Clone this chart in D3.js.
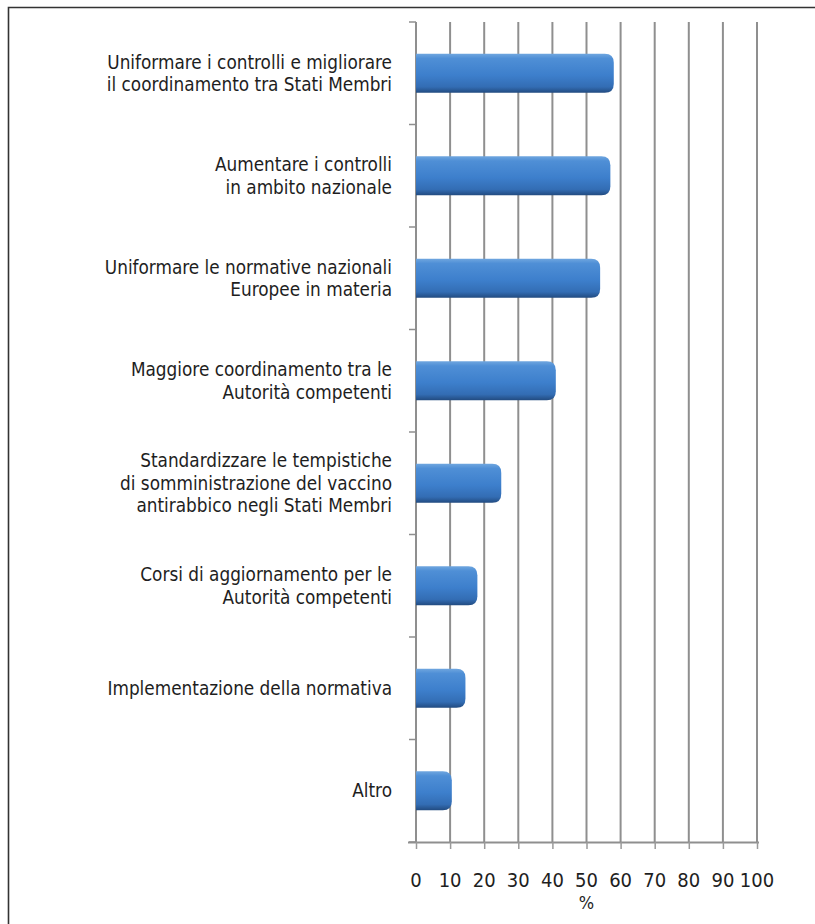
<!DOCTYPE html>
<html>
<head>
<meta charset="utf-8">
<script src="https://cdn.jsdelivr.net/npm/d3@7"></script>
<style>
  html, body { margin: 0; padding: 0; background: #fff; }
  svg { display: block; }
  text { font-family: "Liberation Sans Narrow", "DejaVu Sans Condensed", "Liberation Sans", sans-serif; fill: #1e1e1e; }
</style>
</head>
<body>
<script>
// Survey answers: proposed measures, share of respondents (%)
const categories = [
  ["Uniformare i controlli e migliorare", "il coordinamento tra Stati Membri"],
  ["Aumentare i controlli", "in ambito nazionale"],
  ["Uniformare le normative nazionali", "Europee in materia"],
  ["Maggiore coordinamento tra le", "Autorità competenti"],
  ["Standardizzare le tempistiche", "di somministrazione del vaccino", "antirabbico negli Stati Membri"],
  ["Corsi di aggiornamento per le", "Autorità competenti"],
  ["Implementazione della normativa"],
  ["Altro"]
];
const values = [58, 57, 54, 41, 25, 18, 14.5, 10.5];
const xTicks = [0, 10, 20, 30, 40, 50, 60, 70, 80, 90, 100];
const xTitle = "%";

const W = 815, H = 924;
const svg = d3.select("body").append("svg").attr("width", W).attr("height", H);

// outer frame (left and top edges)
svg.append("path")
  .attr("d", `M8.5,${H} V7.5 H${W}`)
  .attr("fill", "none").attr("stroke", "#333").attr("stroke-width", 1.6);

const plot = { left: 416, right: 757, top: 22, bottom: 842 };

const x = d3.scaleLinear().domain([0, 100]).range([plot.left, plot.right]);
const y = d3.scaleBand().domain(d3.range(categories.length))
  .range([plot.top, plot.bottom]).paddingInner(0.62).paddingOuter(0.31);

// bar fill: light top, darker body, deep bottom edge
const defs = svg.append("defs");
const grad = defs.append("linearGradient").attr("id", "barFill")
  .attr("x1", 0).attr("y1", 0).attr("x2", 0).attr("y2", 1);
[[0, "#6fa6df"], [0.12, "#4f8fd6"], [0.55, "#3d7fcc"], [0.85, "#336db4"], [1, "#224b80"]]
  .forEach(([o, c]) => grad.append("stop").attr("offset", o).attr("stop-color", c));

// vertical gridlines
svg.append("g").selectAll("line").data(xTicks.slice(1)).join("line")
  .attr("x1", d => x(d)).attr("x2", d => x(d))
  .attr("y1", plot.top).attr("y2", plot.bottom)
  .attr("stroke", "#8f8f8f").attr("stroke-width", 2);

// category axis
const yAxis = svg.append("g").attr("transform", `translate(${plot.left},0)`);
yAxis.append("line").attr("x1", 0).attr("x2", 0)
  .attr("y1", plot.top).attr("y2", plot.bottom)
  .attr("stroke", "#8f8f8f").attr("stroke-width", 2);
const boundaries = d3.range(categories.length + 1).map(i => plot.top + i * (plot.bottom - plot.top) / categories.length);
yAxis.selectAll("line.tick").data(boundaries).join("line").attr("class", "tick")
  .attr("x1", -7).attr("x2", 0).attr("y1", d => d).attr("y2", d => d)
  .attr("stroke", "#8f8f8f").attr("stroke-width", 1.5);

// value axis
const xAxis = svg.append("g").attr("transform", `translate(0,${plot.bottom})`)
  .call(d3.axisBottom(x).tickValues(xTicks).tickSize(7).tickFormat(""));
xAxis.select(".domain").attr("stroke", "#8f8f8f").attr("stroke-width", 2)
  .attr("d", `M${plot.left - 8},0.5H${plot.right + 2}`);
xAxis.selectAll(".tick line").attr("stroke", "#9a9a9a").attr("stroke-width", 1.5);

svg.append("g").selectAll("text").data(xTicks).join("text")
  .attr("x", d => x(d)).attr("y", 887)
  .attr("text-anchor", "middle").attr("font-size", 20)
  .text(d => d);
svg.append("text").attr("x", x(50)).attr("y", 909)
  .attr("text-anchor", "middle").attr("font-size", 18).text(xTitle);

// bars with rounded ends
const r = 9;
svg.append("g").selectAll("path").data(values).join("path")
  .attr("d", (v, i) => {
    const x0 = x(0), x1 = x(v), y0 = y(i), h = y.bandwidth();
    return `M${x0},${y0} H${x1 - r} Q${x1},${y0} ${x1},${y0 + r} V${y0 + h - r} Q${x1},${y0 + h} ${x1 - r},${y0 + h} H${x0} Z`;
  })
  .attr("fill", "url(#barFill)");

// category labels
const lineH = 22.5;
const labels = svg.append("g").selectAll("text").data(categories).join("text")
  .attr("text-anchor", "end").attr("font-size", 18.8);
labels.each(function (lines, i) {
  const cy = y(i) + y.bandwidth() / 2;
  const first = cy - (lines.length - 1) * lineH / 2 + 6.5;
  d3.select(this).selectAll("tspan").data(lines).join("tspan")
    .attr("x", 392).attr("y", (d, k) => first + k * lineH).text(d => d);
});
</script>
</body>
</html>
